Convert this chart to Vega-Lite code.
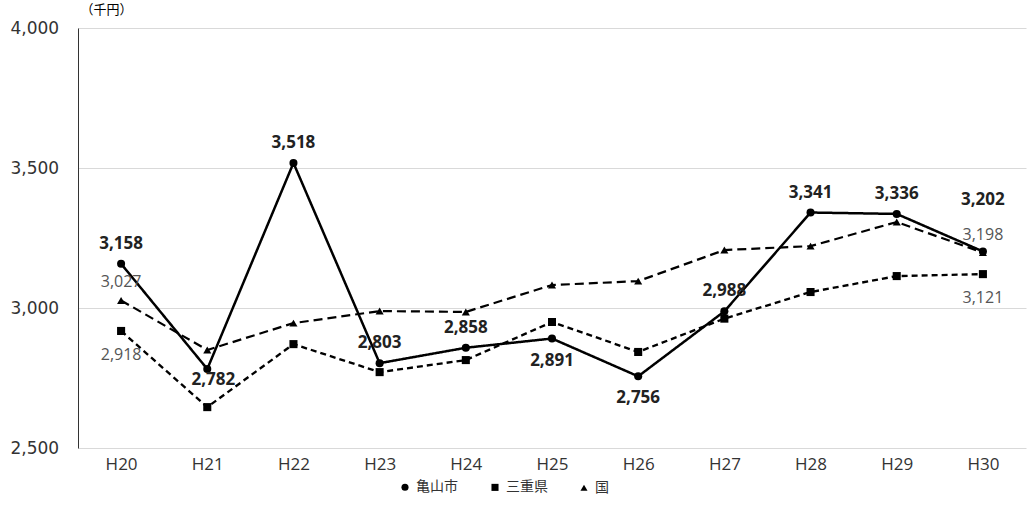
{
"$schema":"https://vega.github.io/schema/vega-lite/v6.json",
"width":948,"height":420,
"autosize":{"type":"none"},
"padding":{"left":78,"top":28,"right":4,"bottom":59},
"background":"white",
"config":{"view":{"stroke":null},"font":"Noto Sans CJK JP"},
"data":{"values":[
{"year":"H20","series":"亀山市","v":3158},{"year":"H21","series":"亀山市","v":2782},{"year":"H22","series":"亀山市","v":3518},{"year":"H23","series":"亀山市","v":2803},{"year":"H24","series":"亀山市","v":2858},{"year":"H25","series":"亀山市","v":2891},{"year":"H26","series":"亀山市","v":2756},{"year":"H27","series":"亀山市","v":2988},{"year":"H28","series":"亀山市","v":3341},{"year":"H29","series":"亀山市","v":3336},{"year":"H30","series":"亀山市","v":3202},
{"year":"H20","series":"三重県","v":2918},{"year":"H21","series":"三重県","v":2646},{"year":"H22","series":"三重県","v":2871},{"year":"H23","series":"三重県","v":2771},{"year":"H24","series":"三重県","v":2814},{"year":"H25","series":"三重県","v":2950},{"year":"H26","series":"三重県","v":2843},{"year":"H27","series":"三重県","v":2962},{"year":"H28","series":"三重県","v":3057},{"year":"H29","series":"三重県","v":3114},{"year":"H30","series":"三重県","v":3121},
{"year":"H20","series":"国","v":3027},{"year":"H21","series":"国","v":2850},{"year":"H22","series":"国","v":2946},{"year":"H23","series":"国","v":2989},{"year":"H24","series":"国","v":2986},{"year":"H25","series":"国","v":3082},{"year":"H26","series":"国","v":3096},{"year":"H27","series":"国","v":3207},{"year":"H28","series":"国","v":3221},{"year":"H29","series":"国","v":3307},{"year":"H30","series":"国","v":3198}
]},
"encoding":{
"x":{"field":"year","type":"ordinal","scale":{"type":"point","padding":0.5},"axis":{"title":null,"labelAngle":0,"domain":false,"ticks":false,"labelFontSize":17,"labelColor":"#333","labelPadding":8,"labelFont":"Open Sans"}},
"y":{"field":"v","type":"quantitative","scale":{"domain":[2500,4000]},"axis":{"values":[2500,3000,3500,4000],"format":",.0f","title":"（千円）","titleAngle":0,"titleX":2,"titleY":-12,"titleAlign":"left","titleFontWeight":"normal","titleFontSize":13,"domain":true,"domainColor":"#333","ticks":false,"grid":true,"gridColor":"#d9d9d9","labelAlign":"left","labelPadding":68,"labelFontSize":17,"labelColor":"#333","labelFont":"DejaVu Sans"}}
},
"layer":[
{"mark":{"type":"line","color":"black","point":{"filled":true,"size":65,"color":"black"}},"encoding":{
"shape":{"field":"series","type":"nominal","scale":{"domain":["亀山市","三重県","国"],"range":["circle","square","triangle-up"]},"legend":null},
"strokeDash":{"field":"series","type":"nominal","scale":{"domain":["亀山市","三重県","国"],"range":[[1,0],[6,4],[9,5]]},"legend":{"title":null,"orient":"none","legendX":320,"legendY":452,"direction":"horizontal","labelFontSize":14,"symbolFillColor":"black","symbolStrokeColor":"black","symbolSize":50,"columnPadding":28,"labelColor":"#333"}},
"strokeWidth":{"field":"series","type":"nominal","scale":{"domain":["亀山市","三重県","国"],"range":[2.5,2.2,2]},"legend":null}}},
{"transform":[{"filter":"datum.series=='亀山市' && indexof(['H21','H25','H26','H30'],datum.year)<0"}],"mark":{"type":"text","dy":-20,"fontSize":17,"fontWeight":"bold","color":"#222","font":"Open Sans"},"encoding":{"text":{"field":"v","format":",.0f"}}},
{"transform":[{"filter":"datum.series=='亀山市' && datum.year=='H30'"}],"mark":{"type":"text","dy":-51,"fontSize":17,"fontWeight":"bold","color":"#222","font":"Open Sans"},"encoding":{"text":{"field":"v","format":",.0f"}}},
{"transform":[{"filter":"datum.series=='亀山市' && datum.year=='H21'"}],"mark":{"type":"text","dy":11,"dx":6,"fontSize":17,"fontWeight":"bold","color":"#222","font":"Open Sans"},"encoding":{"text":{"field":"v","format":",.0f"}}},
{"transform":[{"filter":"datum.series=='亀山市' && indexof(['H25','H26'],datum.year)>=0"}],"mark":{"type":"text","dy":22,"fontSize":17,"fontWeight":"bold","color":"#222","font":"Open Sans"},"encoding":{"text":{"field":"v","format":",.0f"}}},
{"transform":[{"filter":"datum.series=='三重県' && indexof(['H20','H30'],datum.year)>=0"}],"mark":{"type":"text","dy":24,"fontSize":16,"color":"#555","font":"Open Sans"},"encoding":{"text":{"field":"v","format":",.0f"}}},
{"transform":[{"filter":"datum.series=='国' && indexof(['H20','H30'],datum.year)>=0"}],"mark":{"type":"text","dy":-18,"fontSize":16,"color":"#555","font":"Open Sans"},"encoding":{"text":{"field":"v","format":",.0f"}}}
]
}
